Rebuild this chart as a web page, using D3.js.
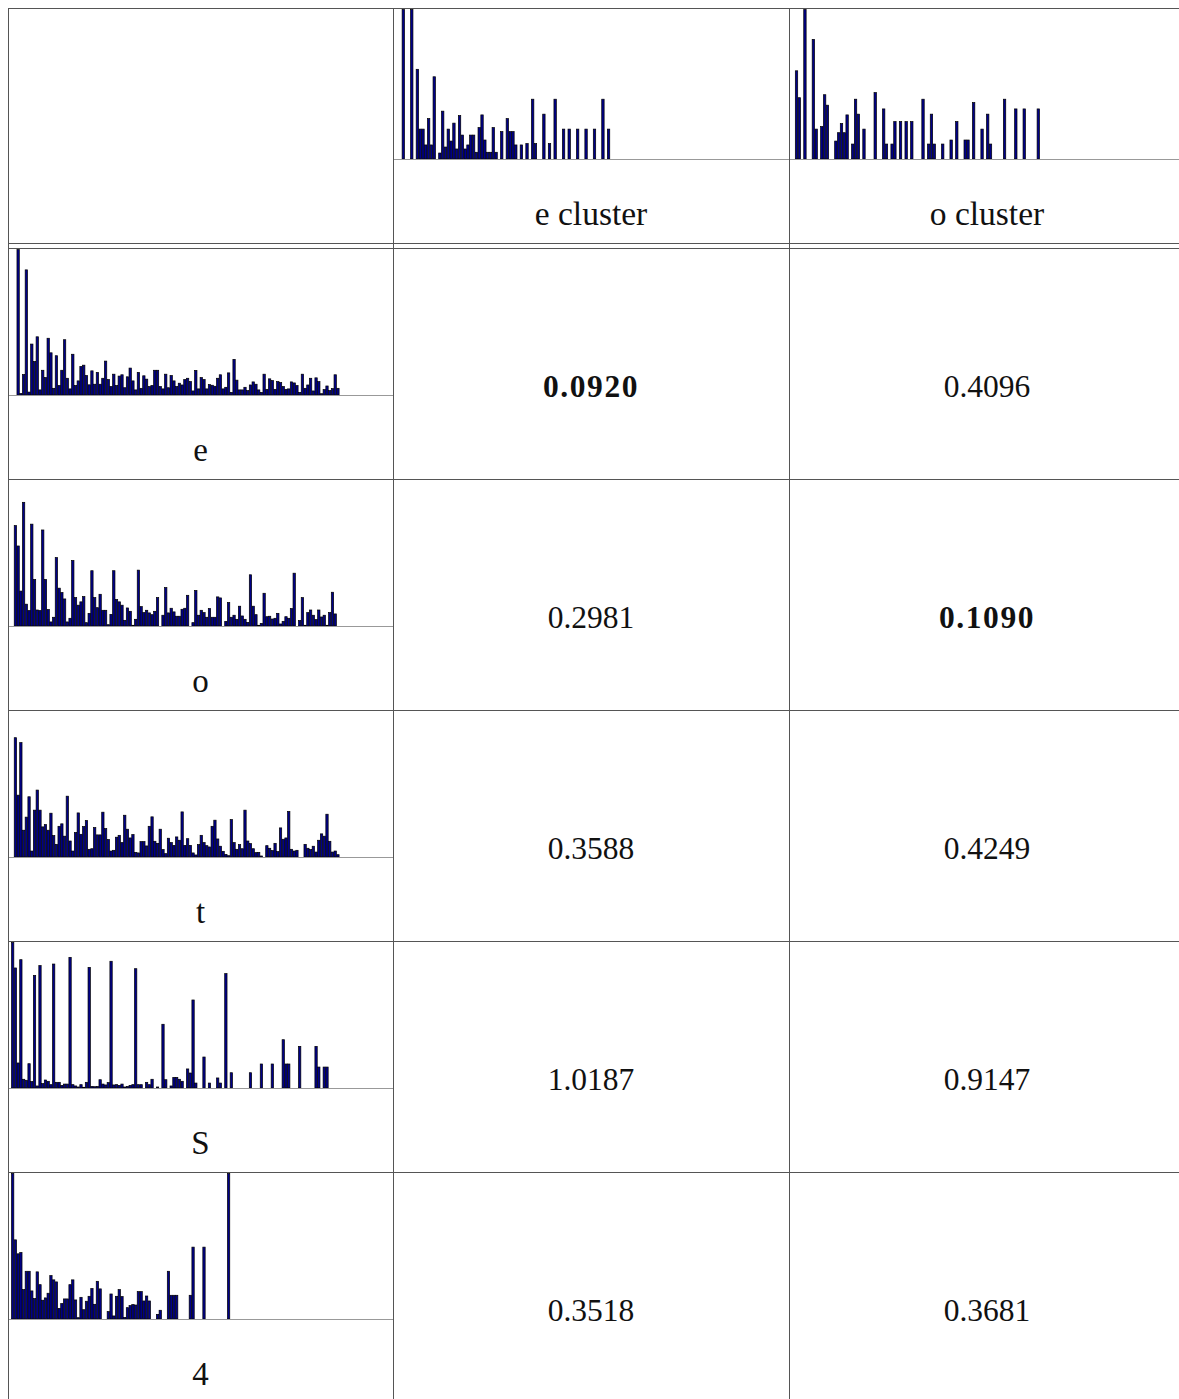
<!DOCTYPE html>
<html>
<head>
<meta charset="utf-8">
<script src="https://cdn.jsdelivr.net/npm/d3@7"></script>
<style>
  html, body { margin: 0; padding: 0; background: #fff; }
  svg { display: block; }
</style>
</head>
<body>
<svg id="chart" width="1179" height="1399"></svg>
<script>
// ---- data -------------------------------------------------------------
const rowLabels = ["e", "o", "t", "S", "4"];
const clusterLabels = ["e cluster", "o cluster"];

// distance of each sample (rows) to each cluster (columns)
const distE = [0.0920, 0.4096];
const distO = [0.2981, 0.1090];
const distT = [0.3588, 0.4249];
const distS = [1.0187, 0.9147];
const dist4 = [0.3518, 0.3681];

// feature histograms, one value per bin (relative height, 0-100)
const histClusterE = [
  0, 0, 100, 0, 0, 100, 0, 60, 20, 20,
  9.4, 27, 9.4, 55, 0, 4, 32, 8, 20, 12,
  24, 6.7, 29, 16, 6.7, 9.4, 16, 16, 4.5, 21,
  29.5, 12.7, 4.5, 4.5, 21, 4.5, 0, 18.3, 0, 27,
  18.3, 18.3, 9.4, 0, 9.4, 0, 10.3, 0, 40, 10.3,
  0, 0, 30, 0, 10.3, 0, 40, 0, 0, 20,
  0, 20, 0, 0, 20, 0, 0, 20, 0, 0,
  20, 0, 0, 40, 0, 20
];
const histClusterO = [
  0, 59, 41, 0, 100, 0, 0, 80, 20, 0,
  21.7, 43, 36, 0, 0, 12, 17.6, 23.7, 17.6, 29.5,
  0, 10, 40, 30, 0, 20, 0, 0, 0, 44.4,
  0, 0, 33.5, 10, 0, 10, 25, 0, 25, 0,
  25, 0, 25, 0, 0, 0, 40, 0, 10, 30,
  10, 0, 0, 10, 0, 0, 12.7, 0, 25, 0,
  0, 12.7, 12.7, 0, 37.7, 0, 0, 20, 0, 30,
  10, 0, 0, 0, 0, 40, 0, 0, 0, 33.5,
  0, 0, 33.5, 0, 0, 0, 0, 33.5
];
const histE = [
  0, 0, 100, 1, 14, 86, 2, 35, 23, 40,
  3.5, 17, 12, 39, 29, 4.6, 27, 6.5, 17, 38,
  11.5, 4.2, 28, 6.5, 9.7, 19.6, 20.5, 13.4, 7, 16.6,
  7.4, 15.5, 7.4, 11.5, 23.3, 10.6, 5.8, 14.3, 6.5, 13,
  13.9, 5, 12.5, 18.5, 9.7, 3.5, 15.5, 4.6, 13.2, 10.9,
  5.8, 6.5, 17, 17, 5.8, 4.2, 14.3, 5, 13.4, 9.7,
  5.8, 8.1, 6.9, 10.6, 11.5, 9.2, 2.8, 16.9, 4.2, 12,
  10.6, 4.2, 7.2, 6.7, 6, 11.5, 13.9, 4.2, 5.3, 15.2,
  1.8, 24.5, 10.2, 3.5, 3.5, 5.3, 3, 6.9, 9, 7.4,
  3.5, 1.8, 14.3, 3.9, 11.1, 9.9, 3.9, 9.2, 8.5, 5.8,
  3.9, 4.2, 9, 8.3, 6.5, 1.8, 14.3, 4.6, 6.9, 11.5,
  2.8, 11.8, 9.2, 0.9, 3.7, 6.2, 3, 4.4, 13.9, 4.6
];
const histO = [
  0, 69, 55, 24, 85, 15, 10.6, 70, 32, 11,
  10.6, 66, 32, 11.3, 2.8, 6, 47, 26, 23, 18.6,
  2.8, 5.3, 45, 19.5, 14.3, 16.6, 20.2, 2.3, 8.7, 38,
  19.5, 12.6, 21.8, 10.8, 10.8, 0.9, 8, 38, 18.2, 16.6,
  14.3, 3.9, 12.4, 10.1, 0.5, 4.6, 38.4, 13.3, 9.2, 10.8,
  9, 7.8, 10.1, 19.5, 0, 7.4, 26.4, 9, 12.2, 9.7,
  6.7, 6.7, 11.5, 12.2, 21.1, 0, 2.3, 24.4, 7.4, 10.8,
  9.2, 6, 12, 6, 6, 20, 19.3, 0, 3.2, 16.1,
  6, 7.4, 4.6, 13.6, 6.9, 4.6, 2.5, 35.2, 13.6, 7.8,
  0.5, 1.8, 22.5, 6.4, 6.7, 4.8, 5.3, 8.7, 1.4, 3.2,
  6.4, 5.3, 12, 36.3, 0, 3.7, 19.5, 0.5, 9.2, 11,
  7.4, 4.4, 11, 6.2, 7.4, 0.5, 9.2, 23.2, 8.3
];
const histT = [
  0, 82, 42.5, 78.6, 18.4, 27.4, 41.4, 4.1, 32.2, 46,
  32.2, 20.7, 22.3, 18.4, 30.1, 14.7, 8.7, 21.1, 22.8, 14.3,
  41.8, 11, 4.1, 16.8, 30.3, 15.6, 20.9, 25.1, 5.3, 5.7,
  20.2, 15.2, 15.2, 30.8, 19.5, 12, 4.1, 4.6, 13.6, 14.9,
  9.9, 28.7, 19.1, 13.1, 15.4, 3.2, 2.8, 10.6, 10.6, 7.6,
  21.1, 27.6, 10.8, 9.4, 19.1, 5.1, 2.3, 12.9, 9.9, 8,
  13.8, 11.5, 31, 8, 12.6, 8, 2.8, 1.4, 8.5, 14.9,
  9.9, 7.8, 6.9, 21.1, 25.3, 12.4, 7.4, 3.9, 1.8, 0.9,
  25.7, 9.9, 5.3, 8.5, 5.7, 32.2, 11, 9.2, 5.7, 3,
  3.2, 0.7, 0, 7.8, 6, 4.4, 9.4, 3.7, 20, 12.2,
  13.1, 31.3, 5.3, 4.1, 4.6, 0, 0, 8.7, 6, 5.1,
  7.4, 3.4, 11.5, 15.9, 14.3, 29.4, 10.8, 3.4, 4.1, 1.6
];
const histS = [
  100, 82.5, 17.2, 88.2, 6, 5.3, 16.7, 4.4, 77.4, 1.4,
  84.1, 3, 5.5, 4.6, 2.3, 85.2, 3.9, 3.9, 1.8, 2.7,
  2.7, 89.8, 2.3, 1.4, 0.7, 2.3, 0.5, 3.9, 82.9, 1.1,
  0.9, 1.1, 5.7, 2.7, 2.1, 3.7, 87.1, 2.1, 2.3, 1.8,
  2.7, 0.7, 1.1, 1.8, 2.3, 82, 2.3, 2.3, 0, 3.9,
  2.3, 6, 0, 0.7, 0, 43.8, 5.7, 0, 1.4, 7.3,
  7.3, 6, 4.6, 0, 13.1, 10.3, 60.5, 3.4, 0, 0,
  21.3, 0, 3.4, 0, 0, 6.9, 3.4, 0, 78.6, 0,
  10.5, 0, 0, 0, 0, 0, 0, 10.5, 0, 0,
  0, 16.5, 0, 0, 0, 16.5, 0, 0, 0, 33.2,
  16.5, 16.5, 0, 0, 0, 28.6, 0, 0, 0, 0,
  0, 28.6, 14.4, 0, 14.4, 14.4
];
const hist4 = [
  100, 54.4, 44.8, 45.7, 20.2, 32.8, 32.8, 19.3, 14, 32.4,
  23.6, 12.9, 14.5, 17.7, 29.8, 26.9, 25.5, 7.3, 10.6, 13.8,
  13.8, 23.6, 26.9, 13.1, 0.9, 14.9, 6.4, 12.2, 15.6, 20.9,
  10.1, 25.9, 20.7, 0, 0, 5.1, 17.2, 2.1, 15.6, 20.2,
  15.4, 1.1, 7.8, 9.2, 9.9, 9.6, 18.8, 18.8, 12.4, 15.8,
  12.4, 0, 0, 3.2, 6, 0, 0, 32.8, 16.3, 16.3,
  16.3, 0, 0, 0, 0, 16.3, 49.4, 0, 0, 0,
  49.4, 0, 0, 0, 0, 0, 0, 0, 0, 100
];

const rowHists = [histE, histO, histT, histS, hist4];
const rowDists = [distE, distO, distT, distS, dist4];
const clusterHists = [histClusterE, histClusterO];

// ---- layout -----------------------------------------------------------
const W = 1179, H = 1399;
const colX = [8, 393, 789, 1185];          // column edges
const headTop = 8, headBottom = 243;
const bodyTop = 248, rowH = 231;
const nBins = 141;
const gridColor = "#555";
const axisColor = "#999";
const barFill = "#000088";
const fontFamily = "'Liberation Serif', 'Times New Roman', serif";

const svg = d3.select("#chart");
svg.append("rect").attr("width", W).attr("height", H).attr("fill", "#fff");

// one small bar histogram inside a cell
function histogram(values, left, right, top, base) {
  const g = svg.append("g");
  const x = d3.scaleBand()
    .domain(d3.range(nBins))
    .range([left + 3.5, left + 3.5 + (right - left)])
    .paddingInner(0.15)
    .paddingOuter(0);
  const y = d3.scaleLinear().domain([0, 100]).range([base, top]);
  const pts = values.map((v, i) => ({ i, v })).filter(d => d.v > 0);
  g.selectAll("rect").data(pts).join("rect")
    .attr("x", d => x(d.i))
    .attr("width", x.bandwidth())
    .attr("y", d => y(d.v))
    .attr("height", d => base - y(d.v))
    .attr("fill", barFill)
    .attr("stroke", "#000")
    .attr("stroke-width", 0.7);
  return g;
}

// header histograms (cluster centres)
const headBase = 159;
clusterHists.forEach((h, j) => {
  histogram(h, colX[j + 1], colX[j + 2], headTop + 1.5, headBase);
});
svg.append("line")
  .attr("x1", colX[1]).attr("x2", W)
  .attr("y1", headBase + 0.5).attr("y2", headBase + 0.5)
  .attr("stroke", axisColor).attr("stroke-width", 1);

svg.selectAll("text.cluster").data(clusterLabels).join("text")
  .attr("class", "cluster")
  .attr("x", (d, j) => (colX[j + 1] + colX[j + 2]) / 2)
  .attr("y", headBase + 66)
  .attr("text-anchor", "middle")
  .attr("font-family", fontFamily)
  .attr("font-size", 33.5)
  .attr("fill", "#111")
  .text(d => d);

// body rows
rowLabels.forEach((lab, r) => {
  const top = bodyTop + r * rowH;
  const base = top + 147;
  histogram(rowHists[r], colX[0], colX[1], top + 1.5, base);
  svg.append("line")
    .attr("x1", colX[0]).attr("x2", colX[1])
    .attr("y1", base + 0.5).attr("y2", base + 0.5)
    .attr("stroke", axisColor).attr("stroke-width", 1);
  svg.append("text")
    .attr("x", (colX[0] + colX[1]) / 2)
    .attr("y", base + 66)
    .attr("text-anchor", "middle")
    .attr("font-family", fontFamily)
    .attr("font-size", 33)
    .attr("fill", "#111")
    .text(lab);
  rowDists[r].forEach((v, j) => {
    const own = clusterLabels[j] === lab + " cluster";
    svg.append("text")
      .attr("x", (colX[j + 1] + colX[j + 2]) / 2)
      .attr("y", top + 149)
      .attr("text-anchor", "middle")
      .attr("font-family", fontFamily)
      .attr("font-size", 31.5)
      .attr("font-weight", own ? "bold" : "normal")
      .attr("letter-spacing", own ? 1.6 : 0)
      .attr("fill", "#111")
      .text(d3.format(".4f")(v));
  });
});

// table rules
const hLines = [headTop, headBottom, bodyTop];
for (let r = 1; r < rowLabels.length; r++) hLines.push(bodyTop + r * rowH);
svg.selectAll("line.h").data(hLines).join("line")
  .attr("class", "h")
  .attr("x1", colX[0]).attr("x2", W)
  .attr("y1", d => d + 0.5).attr("y2", d => d + 0.5)
  .attr("stroke", gridColor).attr("stroke-width", 1);
svg.selectAll("line.v").data(colX.slice(0, 3)).join("line")
  .attr("class", "v")
  .attr("x1", d => d + 0.5).attr("x2", d => d + 0.5)
  .attr("y1", headTop).attr("y2", H)
  .attr("stroke", gridColor).attr("stroke-width", 1);
</script>
</body>
</html>
